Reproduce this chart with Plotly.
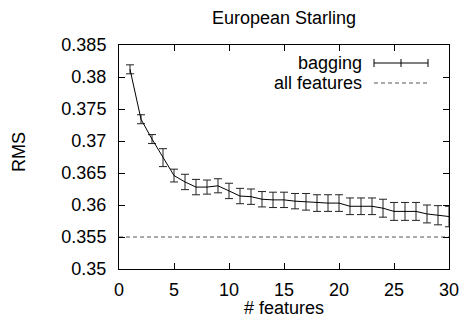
import plotly.graph_objects as go

features = list(range(1, 31))
rms_bagging = [0.3812, 0.3734, 0.3703, 0.3674, 0.3646, 0.3636, 0.3628, 0.3628, 0.3630, 0.3622,
               0.3614, 0.3613, 0.3609, 0.3608, 0.3608, 0.3606, 0.3605, 0.3603, 0.3603, 0.3603,
               0.3598, 0.3598, 0.3598, 0.3595, 0.3590, 0.3590, 0.3590, 0.3586, 0.3584, 0.3582]
rms_err = [0.0007, 0.0007, 0.0007, 0.0014, 0.0010, 0.0012, 0.0012, 0.0011, 0.0011, 0.0012,
           0.0012, 0.0012, 0.0012, 0.0012, 0.0012, 0.0012, 0.0013, 0.0013, 0.0013, 0.0013,
           0.0013, 0.0013, 0.0013, 0.0014, 0.0014, 0.0014, 0.0014, 0.0014, 0.0015, 0.0016]
all_x = [0, 30]
all_features_rms = [0.355, 0.355]

x_ticks = [0, 5, 10, 15, 20, 25, 30]
y_ticks = [0.35, 0.355, 0.36, 0.365, 0.37, 0.375, 0.38, 0.385]
y_ticklabels = ["0.35", "0.355", "0.36", "0.365", "0.37", "0.375", "0.38", "0.385"]

FONT = "Liberation Sans, Arial, Helvetica, sans-serif"
FS = 18

fig = go.Figure()
fig.add_trace(go.Scatter(
    x=features, y=rms_bagging, mode="lines",
    line=dict(color="black", width=1),
    error_y=dict(type="data", array=rms_err, visible=True, color="#222", thickness=1, width=4),
    showlegend=False, hoverinfo="skip"))
fig.add_trace(go.Scatter(
    x=all_x, y=all_features_rms, mode="lines",
    line=dict(color="#555", width=1, dash="4px,3px"),
    showlegend=False, hoverinfo="skip"))

L, R, T, B = 119, 15, 45, 56
W, H = 464, 325
pw, ph = W - L - R, H - T - B

def px(x):
    return (x - L) / pw

def py(y):
    return (H - B - y) / ph

# manual gnuplot-style key
fig.add_annotation(x=px(364), y=py(63), xref="paper", yref="paper", text="bagging",
                   showarrow=False, xanchor="right", yanchor="middle",
                   font=dict(family=FONT, size=FS, color="black"))
fig.add_annotation(x=px(364), y=py(83), xref="paper", yref="paper", text="all features",
                   showarrow=False, xanchor="right", yanchor="middle",
                   font=dict(family=FONT, size=FS, color="black"))
for shp in [
    (374, 63, 428, 63), (374, 59, 374, 67), (428, 59, 428, 67), (401, 59, 401, 67)]:
    fig.add_shape(type="line", xref="paper", yref="paper",
                  x0=px(shp[0]), y0=py(shp[1]), x1=px(shp[2]), y1=py(shp[3]),
                  line=dict(color="black", width=1))
fig.add_shape(type="line", xref="paper", yref="paper",
              x0=px(374), y0=py(83), x1=px(428), y1=py(83),
              line=dict(color="#555", width=1, dash="4px,3px"))

# axis titles as annotations for exact placement
fig.add_annotation(x=px(284), y=py(308), xref="paper", yref="paper", text="# features",
                   showarrow=False, xanchor="center", yanchor="middle",
                   font=dict(family=FONT, size=FS, color="black"))
fig.add_annotation(x=px(19), y=py(152), xref="paper", yref="paper", text="RMS",
                   showarrow=False, xanchor="center", yanchor="middle", textangle=-90,
                   font=dict(family=FONT, size=FS, color="black"))

fig.update_layout(
    width=W, height=H,
    margin=dict(l=L, r=R, t=T, b=B, autoexpand=False),
    paper_bgcolor="white", plot_bgcolor="white",
    font=dict(family=FONT, size=FS, color="black"),
    hovermode=False,
    title=dict(text="European Starling", x=px(284), xref="paper", xanchor="center",
               y=1 - 18 / H, yref="container", yanchor="middle",
               font=dict(family=FONT, size=FS, color="black")),
    xaxis=dict(range=[0, 30], tickvals=x_ticks, ticks="inside", ticklen=6, tickcolor="black",
               mirror="allticks", showline=True, linecolor="black", linewidth=1,
               showgrid=False, zeroline=False, automargin=False, ticklabelstandoff=4),
    yaxis=dict(range=[0.35, 0.385], tickvals=y_ticks, ticktext=y_ticklabels, ticks="inside",
               ticklen=6, tickcolor="black", mirror="allticks", showline=True,
               linecolor="black", linewidth=1, showgrid=False, zeroline=False,
               automargin=False, ticklabelstandoff=8),
)

fig.write_html("out.html", config={"displayModeBar": False},
               post_script="document.body.style.margin='0px';")
